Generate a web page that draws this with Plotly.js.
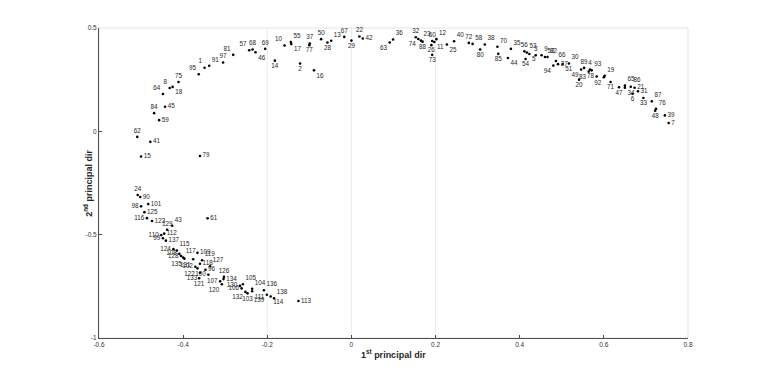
<!DOCTYPE html>
<html>
<head>
<meta charset="utf-8">
<script src="https://cdn.plot.ly/plotly-3.0.1.min.js"></script>
<style>
  html, body { margin: 0; padding: 0; background: #fff; }
  #plot { width: 760px; height: 381px; }
</style>
</head>
<body>
<div id="plot"></div>
<script>
// sample ids
const ids = [
  81, 97, 91, 1, 95, 75, 8, 18, 64, 45, 84, 59,
  62, 41, 15, 79, 24, 90, 101, 98, 125, 61, 116, 123, 43, 129, 112, 110, 99, 137,
  124, 115, 109, 108, 128, 117, 119, 135, 131, 118, 127, 96, 102, 122, 133, 100, 121,
  126, 134, 107, 120, 130, 106, 105, 132, 103, 104, 111, 136, 139, 138, 114, 113,
  57, 68, 46, 69, 14, 10, 55, 17, 2, 16, 37, 77, 50, 28, 13, 67, 29, 22, 42, 63, 36,
  32, 74, 23, 88, 60, 12, 11, 26, 73, 25, 40, 72, 58, 38, 80, 70, 85, 35, 44,
  56, 53, 5, 54, 3, 9, 52, 82, 66, 27, 94, 51, 30, 89, 49, 83, 4, 93, 78, 92, 19, 20, 71,
  47, 65, 34, 86, 21, 6, 31, 33, 87, 76, 48, 39, 7
]

// 1st principal dir
const pc1 = [
  -0.281, -0.305, -0.338, -0.349, -0.363, -0.411, -0.432, -0.425, -0.448, -0.443, -0.469, -0.457,
  -0.509, -0.478, -0.500, -0.360, -0.508, -0.502, -0.483, -0.500, -0.492, -0.342, -0.486, -0.474, -0.426, -0.438, -0.445, -0.452, -0.448, -0.441,
  -0.423, -0.415, -0.366, -0.409, -0.405, -0.400, -0.355, -0.397, -0.376, -0.360, -0.336, -0.347, -0.371, -0.366, -0.360, -0.340, -0.362,
  -0.303, -0.304, -0.312, -0.308, -0.265, -0.261, -0.258, -0.252, -0.247, -0.236, -0.236, -0.208, -0.201, -0.184, -0.192, -0.126,
  -0.243, -0.235, -0.228, -0.205, -0.182, -0.159, -0.144, -0.143, -0.122, -0.089, -0.099, -0.100, -0.072, -0.057, -0.048, -0.017, 0.000, 0.019, 0.027, 0.091, 0.099,
  0.153, 0.159, 0.165, 0.169, 0.192, 0.202, 0.197, 0.190, 0.192, 0.227, 0.244, 0.279, 0.288, 0.317, 0.306, 0.347, 0.349, 0.379, 0.372,
  0.411, 0.417, 0.423, 0.414, 0.438, 0.452, 0.460, 0.466, 0.486, 0.491, 0.480, 0.502, 0.517, 0.553, 0.546, 0.564, 0.567, 0.571, 0.583, 0.600, 0.602, 0.541, 0.616,
  0.636, 0.650, 0.650, 0.664, 0.673, 0.668, 0.681, 0.694, 0.714, 0.724, 0.722, 0.745, 0.754
]

// 2nd principal dir
const pc2 = [
  0.370, 0.333, 0.317, 0.308, 0.276, 0.239, 0.210, 0.215, 0.181, 0.119, 0.088, 0.054,
  -0.027, -0.051, -0.122, -0.119, -0.308, -0.318, -0.352, -0.363, -0.391, -0.421, -0.420, -0.434, -0.457, -0.476, -0.495, -0.502, -0.517, -0.529,
  -0.570, -0.577, -0.588, -0.593, -0.603, -0.611, -0.624, -0.616, -0.619, -0.641, -0.653, -0.670, -0.655, -0.663, -0.684, -0.694, -0.711,
  -0.704, -0.715, -0.726, -0.740, -0.748, -0.760, -0.740, -0.777, -0.784, -0.762, -0.774, -0.769, -0.791, -0.808, -0.799, -0.821,
  0.392, 0.396, 0.383, 0.399, 0.342, 0.415, 0.432, 0.422, 0.328, 0.295, 0.425, 0.417, 0.446, 0.430, 0.438, 0.457, 0.439, 0.459, 0.449, 0.430, 0.444,
  0.455, 0.447, 0.439, 0.434, 0.437, 0.446, 0.432, 0.417, 0.370, 0.420, 0.436, 0.428, 0.423, 0.420, 0.396, 0.409, 0.375, 0.399, 0.355,
  0.387, 0.381, 0.374, 0.350, 0.368, 0.368, 0.360, 0.360, 0.340, 0.325, 0.318, 0.326, 0.328, 0.307, 0.299, 0.289, 0.299, 0.295, 0.265, 0.262, 0.269, 0.250, 0.239,
  0.213, 0.221, 0.211, 0.216, 0.211, 0.182, 0.194, 0.161, 0.145, 0.109, 0.100, 0.077, 0.040
]

const xTicks = [-0.6, -0.4, -0.2, 0, 0.2, 0.4, 0.6, 0.8]
const xTickText = ['-0.6', '-0.4', '-0.2', '0', '0.2', '0.4', '0.6', '0.8']
const yTicks = [-1, -0.5, 0, 0.5]
const yTickText = ['-1', '-0.5', '0', '0.5']

// where each id sits next to its dot
const P = {
  TL: 'top left', TC: 'top center', TR: 'top right',
  ML: 'middle left', MR: 'middle right',
  BL: 'bottom left', BC: 'bottom center', BR: 'bottom right'
}
const labelSide = [
  'TL', 'TC', 'TR', 'TL', 'TL', 'TC', 'TL', 'BR', 'TL', 'MR', 'TC', 'MR',
  'TC', 'MR', 'MR', 'MR', 'TC', 'MR', 'MR', 'ML', 'MR', 'MR', 'ML', 'MR', 'TR', 'TC', 'MR', 'ML', 'ML', 'MR',
  'ML', 'TR', 'MR', 'ML', 'ML', 'TR', 'TR', 'BL', 'BL', 'MR', 'TR', 'MR', 'ML', 'BL', 'BL', 'ML', 'BC',
  'TC', 'MR', 'ML', 'BL', 'ML', 'ML', 'TR', 'BL', 'BC', 'TR', 'BR', 'TR', 'BL', 'TR', 'BR', 'MR',
  'TL', 'TC', 'BR', 'TC', 'BC', 'TL', 'TR', 'BR', 'BC', 'BR', 'TC', 'BC', 'TC', 'BC', 'TR', 'TC', 'BC', 'TC', 'MR', 'BL', 'TR',
  'TC', 'BL', 'TR', 'BC', 'TC', 'TR', 'BR', 'BC', 'BC', 'BR', 'TR', 'TC', 'TR', 'TR', 'BC', 'TR', 'BC', 'TR', 'BR',
  'TC', 'TR', 'BR', 'BC', 'TC', 'TR', 'TR', 'TR', 'TR', 'MR', 'BL', 'BR', 'TR', 'TC', 'BL', 'BL', 'TC', 'TR', 'ML', 'BL', 'TR', 'BC', 'BC',
  'BC', 'TR', 'BR', 'TR', 'MR', 'BC', 'MR', 'BC', 'TR', 'TR', 'BC', 'MR', 'MR'
]

const font = 'Liberation Sans, Arial, Helvetica, sans-serif'
const axisColor = '#4d4d4d'

const traces = [
  {
    type: 'scatter',
    mode: 'markers+text',
    x: pc1,
    y: pc2,
    text: ids.map(String),
    textposition: labelSide.map(k => P[k]),
    textfont: { family: font, size: 6.3, color: '#262626' },
    marker: { color: '#000', size: 2.6, symbol: 'circle' },
    hoverinfo: 'text+x+y',
    cliponaxis: false,
    showlegend: false
  }
]

const axisBase = {
  showgrid: false,
  zeroline: false,
  showline: true,
  linecolor: axisColor,
  linewidth: 1,
  ticks: 'inside',
  ticklen: 3,
  tickcolor: axisColor,
  tickfont: { family: font, size: 6.5, color: '#333' },
  fixedrange: true
}

const layout = {
  width: 760,
  height: 381,
  margin: { l: 99, r: 72, t: 28, b: 43 },
  paper_bgcolor: '#fff',
  plot_bgcolor: '#fff',
  xaxis: {
    ...axisBase,
    range: [-0.6, 0.8],
    tickvals: xTicks,
    ticktext: xTickText
  },
  yaxis: {
    ...axisBase,
    range: [-1, 0.5],
    tickvals: yTicks,
    ticktext: yTickText
  },
  shapes: [
    // light box on top and right
    { type: 'rect', xref: 'paper', yref: 'paper', x0: 0, x1: 1, y0: 0, y1: 1, line: { color: '#e3e3e3', width: 1 }, layer: 'below' },
    ...[-0.2, 0, 0.2].map(v => ({
      type: 'line', xref: 'x', yref: 'paper', x0: v, x1: v, y0: 0, y1: 1,
      line: { color: '#ebebeb', width: 1 }, layer: 'below'
    }))
  ],
  annotations: [
    {
      text: '<b>1<sup>st</sup> principal dir</b>',
      xref: 'paper', yref: 'paper', x: 0.5, y: -0.052,
      xanchor: 'center', yanchor: 'middle', showarrow: false,
      font: { family: font, size: 9, color: '#262626' }
    },
    {
      text: '<b>2<sup>nd</sup> principal dir</b>',
      xref: 'paper', yref: 'paper', x: -0.019, y: 0.5,
      xanchor: 'center', yanchor: 'middle', textangle: -90, showarrow: false,
      font: { family: font, size: 9, color: '#262626' }
    }
  ]
}

Plotly.newPlot('plot', traces, layout, { displayModeBar: false, staticPlot: true })
</script>
</body>
</html>
